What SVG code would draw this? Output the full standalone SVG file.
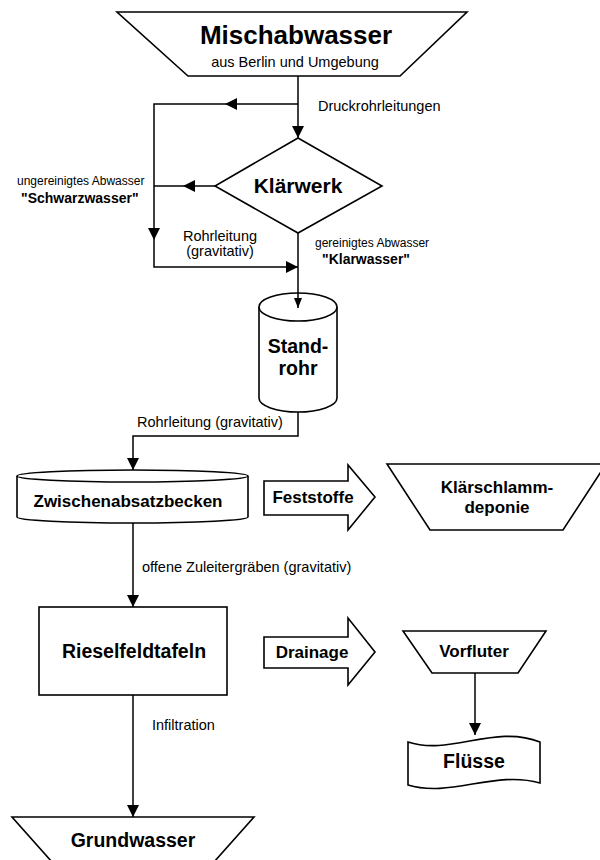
<svg xmlns="http://www.w3.org/2000/svg" width="600" height="860" viewBox="0 0 600 860">
<defs>
<style>
.shape{fill:#fff;stroke:#000;stroke-width:1.6}
.conn{fill:none;stroke:#000;stroke-width:1.5}
text{font-family:"Liberation Sans",Arial,sans-serif;fill:#000}
.b{font-weight:bold}
.lbl{font-size:14.5px}
.sm{font-size:12px}
</style>
<marker id="ah" viewBox="0 0 12 12" refX="12" refY="6" markerWidth="12" markerHeight="12" markerUnits="userSpaceOnUse" orient="auto">
<path d="M0,0 L12,6 L0,12 z" fill="#000"/>
</marker>
<marker id="ahs" viewBox="0 0 10 8" refX="10" refY="4" markerWidth="10" markerHeight="8" markerUnits="userSpaceOnUse" orient="auto">
<path d="M0,0 L10,4 L0,8 z" fill="#000"/>
</marker>
</defs>
<rect width="600" height="860" fill="#fff"/>

<g id="mischabwasser">
<polygon class="shape" points="117,12 467,12 400,76 188,76"/>
<text x="296" y="44" class="b" font-size="26" text-anchor="middle">Mischabwasser</text>
<text x="295" y="67" class="lbl" text-anchor="middle">aus Berlin und Umgebung</text>
</g>

<g id="klaerwerk">
<polygon class="shape" points="298,138 382,186 298,233 215,186"/>
<text x="298" y="193" class="b" font-size="21" text-anchor="middle">Klärwerk</text>
</g>

<g id="standrohr">
<path class="shape" d="M259,307 V398 A39,14 0 0 0 337,398 V307"/>
<ellipse class="shape" cx="298" cy="307" rx="39" ry="14"/>
<text x="298" y="353" class="b" font-size="19.5" text-anchor="middle">Stand-</text>
<text x="298" y="375" class="b" font-size="19.5" text-anchor="middle">rohr</text>
</g>

<g id="zwischenabsatzbecken">
<path class="shape" d="M17,476 V517 A115.5,6 0 0 0 248,517 V476"/>
<ellipse class="shape" cx="132.5" cy="476" rx="115.5" ry="6"/>
<text x="128" y="507" class="b" font-size="17" text-anchor="middle">Zwischenabsatzbecken</text>
</g>

<g id="feststoffe">
<polygon class="shape" points="264,481 348,481 348,465 375,497 348,530 348,515 264,515"/>
<text x="313" y="503" class="b" font-size="17" text-anchor="middle">Feststoffe</text>
</g>

<g id="klaerschlammdeponie">
<polygon class="shape" points="387,464 606,464 563,530 430,530"/>
<text x="497" y="493" class="b" font-size="17" text-anchor="middle">Klärschlamm-</text>
<text x="497" y="513" class="b" font-size="17" text-anchor="middle">deponie</text>
</g>

<g id="rieselfeldtafeln">
<rect class="shape" x="39" y="607" width="188" height="88"/>
<text x="134" y="658" class="b" font-size="19.5" text-anchor="middle">Rieselfeldtafeln</text>
</g>

<g id="drainage">
<polygon class="shape" points="264,637 348,637 348,618 375,652 348,685 348,668 264,668"/>
<text x="312" y="658" class="b" font-size="17" text-anchor="middle">Drainage</text>
</g>

<g id="vorfluter">
<polygon class="shape" points="403,631 546,631 518,673 432,673"/>
<text x="474" y="657" class="b" font-size="17" text-anchor="middle">Vorfluter</text>
</g>

<g id="fluesse">
<path class="shape" d="M408,742 C450,756 495,724 540,742 V783 C495,770 450,798 408,785 Z"/>
<text x="474" y="768" class="b" font-size="19.5" text-anchor="middle">Flüsse</text>
</g>

<g id="grundwasser">
<polygon class="shape" points="12,817 254,817 214,862 52,862"/>
<text x="133" y="847" class="b" font-size="19.5" text-anchor="middle">Grundwasser</text>
</g>

<g id="connectors">
<path class="conn" d="M298,76 V138" marker-end="url(#ah)"/>
<path class="conn" d="M298,104 H225" marker-end="url(#ah)"/>
<path class="conn" d="M225,104 H154 V240" marker-end="url(#ah)"/>
<path class="conn" d="M154,240 V267 H298" marker-end="url(#ah)"/>
<path class="conn" d="M215,186 H183" marker-end="url(#ah)"/>
<path class="conn" d="M183,186 H154"/>
<path class="conn" d="M298,233 V308" marker-end="url(#ahs)"/>
<path class="conn" d="M298,412 V436 H133 V470" marker-end="url(#ah)"/>
<path class="conn" d="M133,523 V607" marker-end="url(#ah)"/>
<path class="conn" d="M133,695 V817" marker-end="url(#ah)"/>
<path class="conn" d="M475,673 V735" marker-end="url(#ah)"/>
</g>

<g id="labels">
<text x="318" y="111" class="lbl">Druckrohrleitungen</text>
<text x="17" y="185" class="sm">ungereinigtes Abwasser</text>
<text x="21" y="203" class="b" font-size="14">"Schwarzwasser"</text>
<text x="220" y="241" class="lbl" text-anchor="middle">Rohrleitung</text>
<text x="220" y="256" class="lbl" text-anchor="middle">(gravitativ)</text>
<text x="315" y="247" class="sm">gereinigtes Abwasser</text>
<text x="322" y="264" class="b" font-size="14">"Klarwasser"</text>
<text x="137" y="427" class="lbl">Rohrleitung (gravitativ)</text>
<text x="142" y="572" class="lbl">offene Zuleitergräben (gravitativ)</text>
<text x="152" y="730" class="lbl">Infiltration</text>
</g>
</svg>
